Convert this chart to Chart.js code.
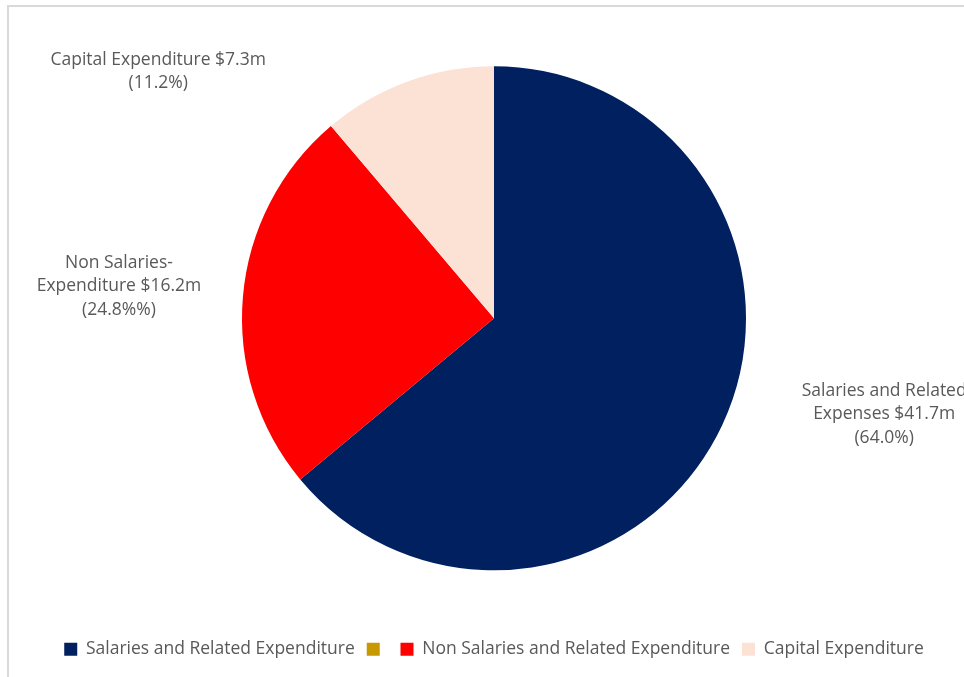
<!DOCTYPE html>
<html>
<head>
<meta charset="utf-8">
<script src="https://cdn.jsdelivr.net/npm/chart.js@4"></script>
<style>
  html, body { margin: 0; padding: 0; background: #fff; overflow: hidden; }
  #frame {
    position: absolute; left: 7px; top: 5px;
    width: 970px; height: 700px;
    border: 2px solid #d9d9d9;
    background: #fff;
  }
  #pie { display: block; }
</style>
</head>
<body>
<div id="frame"><canvas id="pie" width="970" height="672"></canvas></div>
<script>
// chart data
const categories = ['Salaries and Related Expenditure', '', 'Non Salaries and Related Expenditure', 'Capital Expenditure'];
const amounts = [41.7, 0, 16.2, 7.3];
const sliceLabels = [
  ['Salaries and Related', 'Expenses $41.7m', '(64.0%)'],
  [],
  ['Non Salaries-', 'Expenditure $16.2m', '(24.8%%)'],
  ['Capital Expenditure $7.3m', '(11.2%)']
];
const colors = ['#002060', '#C89800', '#FF0000', '#FBE2D5'];

// where each outside label sits, relative to the slice's outer mid point
const labelShift = [[162, -11], [0, 0], [-124, -10], [-249, -10]];

const FONT = 'Open Sans';

const outsideLabels = {
  id: 'outsideLabels',
  afterDatasetsDraw(chart) {
    const ctx = chart.ctx;
    const meta = chart.getDatasetMeta(0);
    ctx.save();
    ctx.font = '17.5px "' + FONT + '"';
    ctx.fillStyle = '#595959';
    ctx.textAlign = 'center';
    ctx.textBaseline = 'middle';
    meta.data.forEach((arc, i) => {
      const lines = sliceLabels[i];
      if (!lines.length || !amounts[i]) return;
      const mid = (arc.startAngle + arc.endAngle) / 2;
      const px = arc.x + Math.cos(mid) * arc.outerRadius + labelShift[i][0];
      const py = arc.y + Math.sin(mid) * arc.outerRadius + labelShift[i][1];
      const lh = 23.5;
      const top = py - (lines.length - 1) * lh / 2;
      lines.forEach((t, k) => ctx.fillText(t, px, top + k * lh));
    });
    ctx.restore();
  }
};

let chartPie = new Chart(document.querySelector('#pie'), {
  type: 'pie',
  data: {
    labels: categories,
    datasets: [{
      data: amounts,
      backgroundColor: colors,
      borderWidth: 0,
      radius: 252
    }]
  },
  options: {
    responsive: false,
    animation: false,
    layout: { padding: { top: 1, bottom: 11, left: 0, right: 0 } },
    plugins: {
      tooltip: { enabled: false },
      legend: {
        position: 'bottom',
        labels: {
          boxWidth: 13,
          boxHeight: 13,
          padding: 12,
          color: '#595959',
          font: { family: FONT, size: 17.5 }
        }
      }
    }
  },
  plugins: [outsideLabels]
});
</script>
</body>
</html>
